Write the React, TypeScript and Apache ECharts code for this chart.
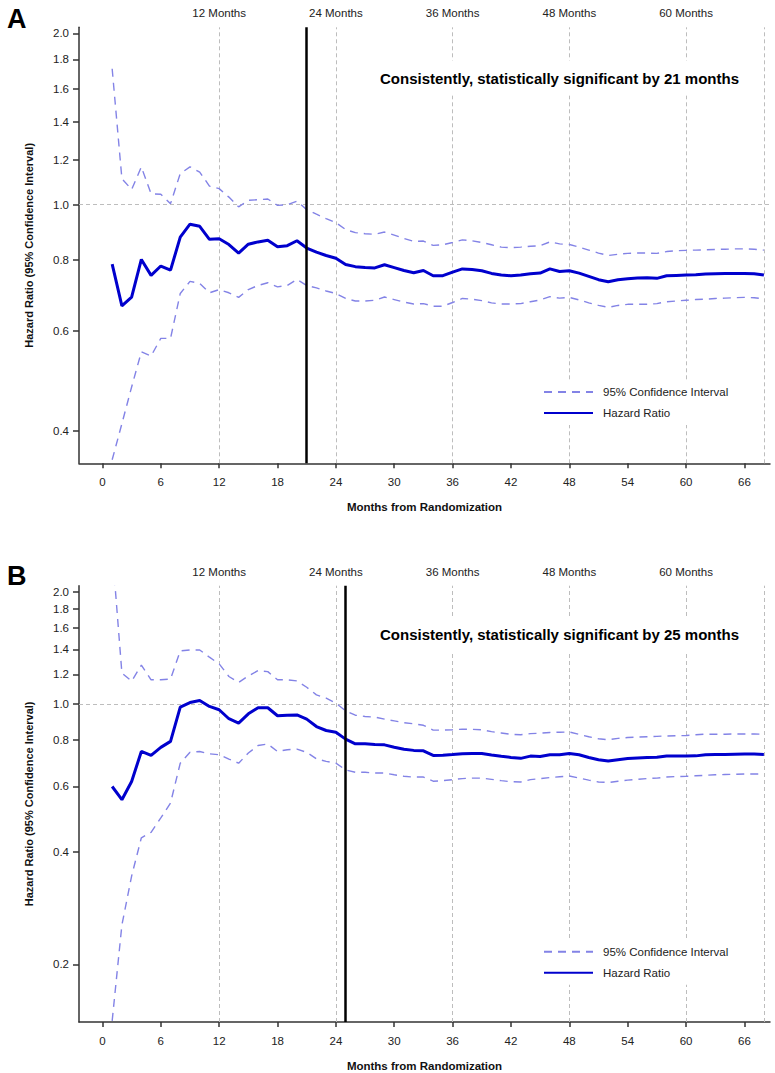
import React, { useEffect, useRef } from "react";
import * as echarts from "echarts";

const MONTHS = [1,2,3,4,5,6,7,8,9,10,11,12,13,14,15,16,17,18,19,20,21,22,23,24,25,26,27,28,29,30,31,32,33,34,35,36,37,38,39,40,41,42,43,44,45,46,47,48,49,50,51,52,53,54,55,56,57,58,59,60,61,62,63,64,65,66,67,68];

const A_HR = [0.786,0.664,0.688,0.801,0.751,0.780,0.767,0.877,0.924,0.916,0.869,0.871,0.851,0.822,0.852,0.860,0.866,0.843,0.847,0.864,0.839,0.825,0.814,0.805,0.785,0.778,0.775,0.774,0.784,0.775,0.766,0.759,0.766,0.750,0.750,0.761,0.771,0.769,0.765,0.757,0.752,0.750,0.752,0.756,0.758,0.771,0.763,0.765,0.758,0.748,0.738,0.732,0.738,0.741,0.743,0.744,0.742,0.750,0.751,0.752,0.753,0.755,0.756,0.757,0.757,0.757,0.756,0.752];
const A_UP = [1.733,1.111,1.063,1.165,1.045,1.043,1.004,1.134,1.165,1.141,1.078,1.067,1.031,0.991,1.018,1.020,1.023,0.997,1.000,1.014,0.980,0.962,0.945,0.930,0.904,0.893,0.889,0.887,0.895,0.884,0.872,0.862,0.863,0.848,0.850,0.858,0.867,0.864,0.858,0.850,0.842,0.840,0.842,0.845,0.847,0.860,0.853,0.851,0.842,0.832,0.822,0.814,0.818,0.821,0.822,0.822,0.821,0.827,0.830,0.831,0.832,0.833,0.834,0.835,0.836,0.836,0.835,0.832];
const A_LO = [0.356,0.412,0.478,0.551,0.542,0.582,0.582,0.698,0.733,0.727,0.700,0.709,0.700,0.687,0.709,0.721,0.729,0.717,0.721,0.739,0.721,0.714,0.705,0.698,0.684,0.677,0.677,0.679,0.688,0.681,0.674,0.669,0.670,0.663,0.663,0.673,0.684,0.682,0.678,0.672,0.669,0.669,0.670,0.675,0.680,0.689,0.685,0.687,0.680,0.672,0.665,0.660,0.665,0.668,0.668,0.668,0.670,0.675,0.677,0.679,0.681,0.682,0.684,0.685,0.686,0.687,0.686,0.683];

const B_HR = [0.600,0.553,0.619,0.745,0.727,0.764,0.793,0.980,1.008,1.021,0.984,0.964,0.912,0.888,0.940,0.976,0.976,0.929,0.932,0.934,0.910,0.869,0.848,0.839,0.804,0.781,0.781,0.778,0.776,0.765,0.755,0.750,0.748,0.727,0.728,0.731,0.735,0.736,0.736,0.729,0.723,0.718,0.714,0.724,0.722,0.730,0.730,0.736,0.730,0.718,0.708,0.702,0.708,0.713,0.716,0.718,0.719,0.724,0.724,0.724,0.725,0.730,0.731,0.731,0.732,0.733,0.733,0.731];
const B_UP = [2.6,1.21,1.15,1.27,1.16,1.16,1.165,1.387,1.395,1.395,1.334,1.280,1.184,1.141,1.188,1.228,1.220,1.160,1.160,1.152,1.108,1.057,1.036,1.004,0.958,0.932,0.925,0.921,0.910,0.900,0.890,0.884,0.876,0.850,0.850,0.852,0.855,0.854,0.852,0.842,0.835,0.828,0.826,0.832,0.834,0.838,0.839,0.840,0.828,0.816,0.806,0.801,0.808,0.812,0.814,0.816,0.818,0.820,0.821,0.822,0.826,0.829,0.829,0.829,0.830,0.830,0.830,0.829];
const B_LO = [0.141,0.255,0.345,0.437,0.452,0.494,0.542,0.693,0.741,0.745,0.734,0.730,0.711,0.693,0.738,0.773,0.780,0.745,0.753,0.756,0.741,0.712,0.701,0.693,0.665,0.655,0.655,0.652,0.652,0.645,0.639,0.636,0.636,0.620,0.622,0.626,0.630,0.632,0.632,0.627,0.622,0.618,0.617,0.626,0.630,0.634,0.637,0.640,0.632,0.624,0.617,0.615,0.620,0.624,0.627,0.630,0.632,0.636,0.638,0.639,0.641,0.643,0.645,0.646,0.647,0.648,0.648,0.648];

const X_TICKS = [0, 6, 12, 18, 24, 30, 36, 42, 48, 54, 60, 66];
const TOP_TICKS = [12, 24, 36, 48, 60];
const GRID_MONTHS = [12, 24, 36, 48, 60, 68];
const A_Y_TICKS = [0.4, 0.6, 0.8, 1.0, 1.2, 1.4, 1.6, 1.8, 2.0];
const B_Y_TICKS = [0.2, 0.4, 0.6, 0.8, 1.0, 1.2, 1.4, 1.6, 1.8, 2.0];
const A_SIG_MONTH = 21;
const B_SIG_MONTH = 25;
const A_NOTE = "Consistently, statistically significant by 21 months";
const B_NOTE = "Consistently, statistically significant by 25 months";
const CI_NAME = "95% Confidence Interval";
const HR_NAME = "Hazard Ratio";

const FONT = "'Liberation Sans', Arial, Helvetica, sans-serif";
const TXT = "#222";
const X_MIN = -2.41;
const X_MAX = 68.63;

const HR_COLOR = "#0000CD";
const CI_COLOR = "#8383E6";
const GRID_COLOR = "#BDBDBD";

function pts(vals: number[]) {
  return MONTHS.map((m, i) => [m, Math.log(vals[i])]);
}

function buildPanel(idx: number, hr: number[], up: number[], lo: number[], yTicks: number[], yMin: number, yMax: number, sig: number) {
  const xi = idx * 2;
  const xAxes = [
    {
      type: "value",
      gridIndex: idx,
      position: "bottom",
      min: X_MIN,
      max: X_MAX,
      name: "Months from Randomization",
      nameLocation: "middle",
      nameGap: 38,
      nameTextStyle: { fontFamily: FONT, fontWeight: "bold", fontSize: 11.5, color: "#111" },
      axisLine: { show: true, onZero: false, lineStyle: { color: "#333", width: 1.5 } },
      axisTick: { show: true, length: 5, customValues: X_TICKS, lineStyle: { color: "#333", width: 1.5 } },
      axisLabel: { customValues: X_TICKS, margin: 13, fontFamily: FONT, fontSize: 11.5, color: TXT },
      splitLine: { show: false },
    },
    {
      type: "value",
      gridIndex: idx,
      position: "top",
      min: X_MIN,
      max: X_MAX,
      axisLine: { show: false, onZero: false },
      axisTick: { show: false },
      axisLabel: {
        customValues: TOP_TICKS,
        margin: 8,
        fontFamily: FONT,
        fontSize: 11.5,
        color: TXT,
        formatter: (v: number) => `${Math.round(v)} Months`,
      },
      splitLine: { show: false },
    },
  ];
  const yAxis = {
    type: "value",
    gridIndex: idx,
    min: Math.log(yMin),
    max: Math.log(yMax),
    name: "Hazard Ratio (95% Confidence Interval)",
    nameLocation: "middle",
    nameGap: 45,
    nameTextStyle: { fontFamily: FONT, fontWeight: "bold", fontSize: 11, color: "#111" },
    axisLine: { show: true, onZero: false, lineStyle: { color: "#333", width: 1.5 } },
    axisTick: { show: true, length: 6, customValues: yTicks.map((t) => Math.log(t)), lineStyle: { color: "#333", width: 1.5 } },
    axisLabel: {
      customValues: yTicks.map((t) => Math.log(t)),
      margin: 10,
      fontFamily: FONT,
      fontSize: 11.5,
      color: TXT,
      formatter: (v: number) => Math.exp(v).toFixed(1),
    },
    splitLine: { show: false },
  };
  const ciStyle = { color: CI_COLOR, width: 1.4, type: [8, 6] };
  const series = [
    {
      name: CI_NAME,
      type: "line",
      xAxisIndex: xi,
      yAxisIndex: idx,
      data: pts(lo),
      symbol: "none",
      showSymbol: false,
      lineStyle: ciStyle,
      itemStyle: { color: CI_COLOR },
      z: 3,
      markLine: {
        silent: true,
        symbol: "none",
        z: 1,
        label: { show: false },
        lineStyle: { color: GRID_COLOR, width: 1, type: [4, 3] },
        data: [
          ...GRID_MONTHS.map((m) => ({ xAxis: m })),
          { yAxis: 0 },
        ],
      },
    },
    {
      name: CI_NAME,
      type: "line",
      xAxisIndex: xi,
      yAxisIndex: idx,
      data: pts(up),
      symbol: "none",
      showSymbol: false,
      lineStyle: ciStyle,
      itemStyle: { color: CI_COLOR },
      z: 3,
    },
    {
      name: HR_NAME,
      type: "line",
      xAxisIndex: xi,
      yAxisIndex: idx,
      data: pts(hr),
      symbol: "none",
      showSymbol: false,
      lineStyle: { color: HR_COLOR, width: 3 },
      itemStyle: { color: HR_COLOR },
      z: 4,
      markLine: {
        silent: true,
        symbol: "none",
        z: 5,
        label: { show: false },
        lineStyle: { color: "#000", width: 2.5, type: "solid" },
        data: [{ xAxis: sig }],
      },
    },
  ];
  return { xAxes, yAxis, series };
}

export default function App() {
  const ref = useRef<HTMLDivElement>(null);
  useEffect(() => {
    if (!ref.current) return;
    const chart = echarts.init(ref.current, null, { renderer: "svg" });
    const a = buildPanel(0, A_HR, A_UP, A_LO, A_Y_TICKS, 0.351, 2.05, A_SIG_MONTH);
    const b = buildPanel(1, B_HR, B_UP, B_LO, B_Y_TICKS, 0.14, 2.075, B_SIG_MONTH);
    const legendBase = {
      orient: "vertical",
      left: 537,
      itemWidth: 49,
      itemHeight: 14,
      itemGap: 9,
      padding: 6,
      backgroundColor: "#fff",
      data: [CI_NAME, HR_NAME],
      selectedMode: false,
      itemStyle: { opacity: 0 },
      textStyle: { fontFamily: FONT, fontSize: 11.5, color: TXT, padding: [0, 0, 0, 5] },
    };
    const noteStyle = (text: string, y: number) => ({
      type: "text",
      x: 559.5,
      y,
      z: 10,
      style: {
        text,
        align: "center",
        verticalAlign: "middle",
        font: `bold 15px ${FONT}`,
        fill: "#000",
        backgroundColor: "#fff",
        padding: [10, 4],
      },
    });
    chart.setOption({
      animation: false,
      backgroundColor: "#fff",
      grid: [
        { left: 79, right: 5, top: 27.3, height: 436 },
        { left: 79, right: 5, top: 585.7, height: 436.6 },
      ],
      xAxis: [...a.xAxes, ...b.xAxes],
      yAxis: [a.yAxis, b.yAxis],
      legend: [
        { ...legendBase, top: 380 },
        { ...legendBase, top: 939.7 },
      ],
      series: [...a.series, ...b.series],
      graphic: [
        noteStyle(A_NOTE, 78),
        noteStyle(B_NOTE, 634.3),
        {
          type: "text",
          x: 7,
          y: 19,
          z: 10,
          style: { text: "A", font: `bold 27px ${FONT}`, fill: "#000", verticalAlign: "middle" },
        },
        {
          type: "text",
          x: 7,
          y: 576,
          z: 10,
          style: { text: "B", font: `bold 27px ${FONT}`, fill: "#000", verticalAlign: "middle" },
        },
      ],
    });
    return () => chart.dispose();
  }, []);
  return (
    <div
      ref={ref}
      style={{ position: "absolute", left: 0, top: 0, width: 775, height: 1073, background: "#fff" }}
    />
  );
}
